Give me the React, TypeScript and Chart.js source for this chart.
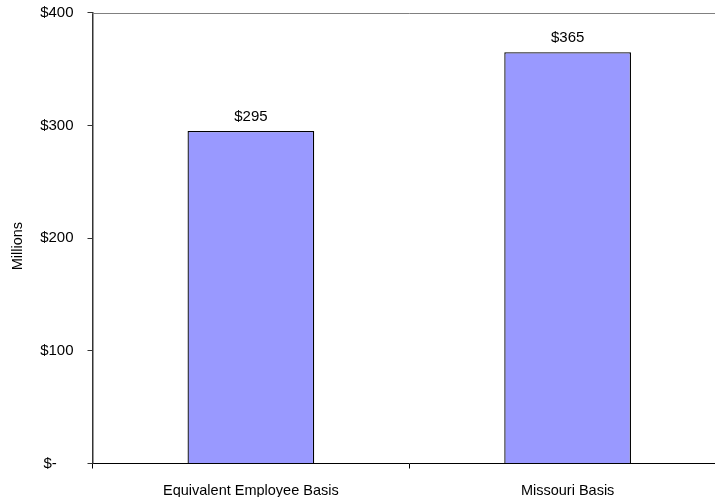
import React, { useEffect, useRef } from "react";
import { Chart, registerables } from "chart.js";

Chart.register(...registerables);

const categories = ["Equivalent Employee Basis", "Missouri Basis"];
const values = [295, 365];
const dataLabels = ["$295", "$365"];
const yTicks = [0, 100, 200, 300, 400];
const yTickLabels = ["$-    ", "$100", "$200", "$300", "$400"];
const yTitle = "Millions";

const FONT = "'Liberation Sans', Arial, sans-serif";

const extras = {
  id: "extras",
  afterDatasetsDraw(chart: any) {
    const ctx = chart.ctx;
    const area = chart.chartArea;
    ctx.save();
    // top border of plot area
    ctx.strokeStyle = "#808080";
    ctx.lineWidth = 1;
    ctx.beginPath();
    ctx.moveTo(area.left, Math.round(area.top) + 0.5);
    ctx.lineTo(area.right, Math.round(area.top) + 0.5);
    ctx.stroke();
    // data labels
    const meta = chart.getDatasetMeta(0);
    ctx.fillStyle = "#000";
    ctx.font = `15px ${FONT}`;
    ctx.textAlign = "center";
    ctx.textBaseline = "middle";
    meta.data.forEach((el: any, i: number) => {
      ctx.fillText(dataLabels[i], el.x, el.y - 14);
    });
    // y-axis title
    ctx.font = `14.5px ${FONT}`;
    ctx.translate(18, (area.top + area.bottom) / 2 + 8);
    ctx.rotate(-Math.PI / 2);
    ctx.fillText(yTitle, 0, 0);
    ctx.restore();
  },
};

export default function App() {
  const ref = useRef<HTMLCanvasElement>(null);
  useEffect(() => {
    if (!ref.current) return;
    const chart = new Chart(ref.current, {
      type: "bar",
      data: {
        labels: categories,
        datasets: [
          {
            data: values,
            backgroundColor: "#9999FF",
            borderColor: "#000000",
            borderWidth: 1.3,
            categoryPercentage: 1,
            barPercentage: 0.4,
          },
        ],
      },
      plugins: [extras],
      options: {
        animation: false,
        responsive: false,
        events: [],
        layout: { padding: { left: 0, top: 12.7, right: 14, bottom: 0 } },
        plugins: { legend: { display: false }, tooltip: { enabled: false } },
        scales: {
          x: {
            offset: true,
            grid: {
              display: true,
              offset: true,
              drawOnChartArea: false,
              tickLength: 5,
              color: "#000",
            },
            border: { display: true, color: "#000", width: 1 },
            ticks: { color: "#000", font: { family: FONT, size: 14.5 }, padding: 14, maxRotation: 0 },
            afterFit: (s: any) => {
              s.height = 33.5;
              s.paddingLeft = 0;
              s.paddingRight = 0;
            },
          },
          y: {
            min: 0,
            max: 400,
            afterBuildTicks: (s: any) => {
              s.ticks = yTicks.map((v) => ({ value: v }));
            },
            grid: {
              display: true,
              drawOnChartArea: false,
              tickLength: 5,
              color: "#333",
            },
            border: { display: true, color: "#333", width: 1.5 },
            ticks: {
              color: "#000",
              font: { family: FONT, size: 15 },
              padding: 14,
              callback: (v: any) => yTickLabels[yTicks.indexOf(Number(v))],
            },
            title: { display: false },
            afterFit: (s: any) => {
              s.width = 92.5;
              s.paddingTop = 0;
              s.paddingBottom = 0;
            },
          },
        },
      },
    });
    return () => chart.destroy();
  }, []);
  return (
    <div
      style={{
        position: "absolute",
        left: 0,
        top: 0,
        width: 715,
        height: 497,
        overflow: "hidden",
        background: "#fff",
      }}
    >
      <canvas ref={ref} width={740} height={497} style={{ display: "block" }} />
    </div>
  );
}
